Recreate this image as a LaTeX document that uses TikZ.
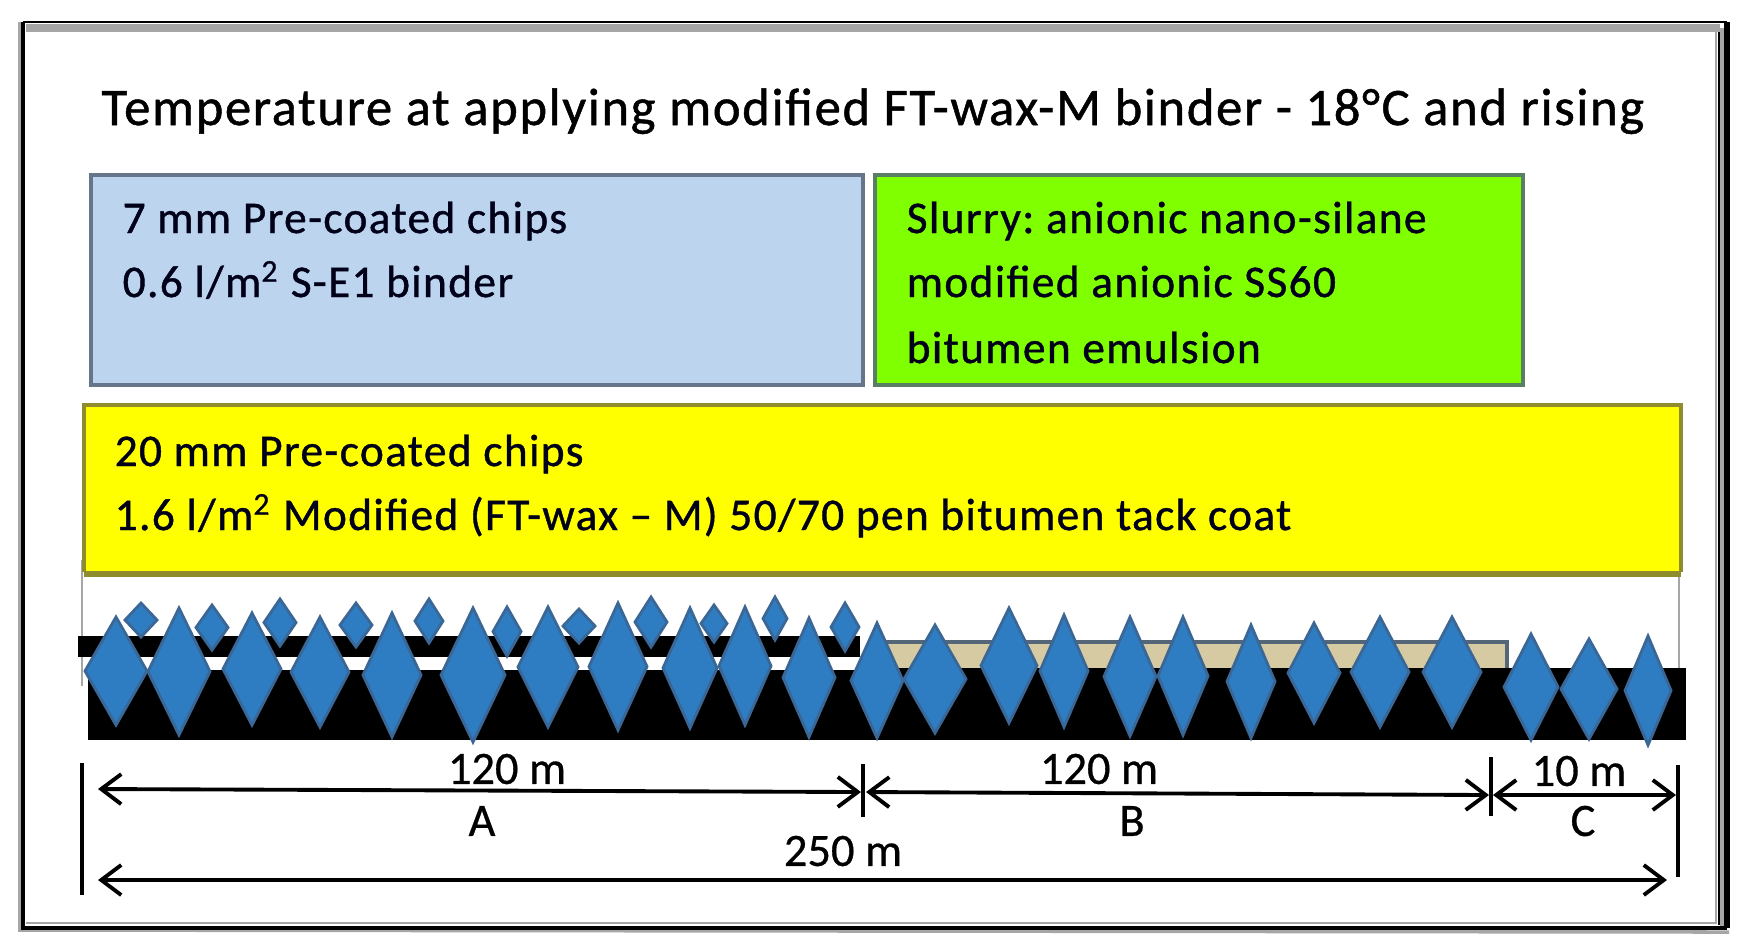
\documentclass[tikz,border=0pt]{standalone}
\usepackage{fontspec}
\setmainfont[LetterSpace=3,FakeBold=0.9]{Carlito}
\newfontfamily\dimfont[FakeBold=0.6]{Carlito}
\usepackage{xcolor}
\usetikzlibrary{arrows.meta}
\definecolor{chipblue}{HTML}{BDD4EE}
\definecolor{slurrygreen}{HTML}{80FF00}
\definecolor{tackyellow}{HTML}{FFFF00}
\definecolor{tackedge}{HTML}{8F8C2E}
\definecolor{slurrytan}{HTML}{D6CAA2}
\definecolor{boxedge}{HTML}{556678}
\definecolor{stoneblue}{HTML}{2E7DC2}
\definecolor{stoneedge}{HTML}{3A6796}

\begin{document}
\frenchspacing
\begin{tikzpicture}
	[   x=0.01cm,y=-0.01cm,
	    layer/.style={draw=#1!15!boxedge,line width=1.1pt,fill=#1},
	    stone/.style={draw=stoneedge,line width=0.8pt,fill=stoneblue},
	    rimgray/.style={draw=gray!70},
	    bodytext/.style={anchor=base west,inner sep=0pt,text=black!90!blue,font=\fontsize{12.9}{15}\selectfont},
	    dimtext/.style={inner sep=0pt,font=\dimfont\fontsize{13.2}{15}\selectfont},
	    tick/.style={draw=black,line width=0.9pt},
	    dimline/.style={draw=black,line width=1.1pt,{Straight Barb[length=2mm,width=3mm]}-{Straight Barb[length=2mm,width=3mm]}},
	]
	\useasboundingbox (0,0) rectangle (1746,950);
	\fill[white] (0,0) rectangle (1746,950);
	
	% frame
	\coordinate (nw) at (23,22);
	\coordinate (ne) at (1727,22);
	\coordinate (se) at (1727,928);
	\coordinate (sw) at (23,928);
	\draw[rimgray,line width=2.2pt] (26,28) -- (1720,28);
	\draw[rimgray,line width=1pt] (20,22) -- (20,930) -- (1729,932);
	\draw[rimgray,line width=1pt] (1722,28) -- (1722,926);
	\draw[rimgray,line width=0.7pt] (1716,32) -- (1716,923) -- (26,923);
	\draw[draw=black,line width=0.6pt] (1719,32) -- (1719,925);
	\draw[draw=black,line width=0.7pt] (nw) -- (ne);
	\draw[draw=black,line width=1pt] (nw) -- (sw) -- (se);
	\draw[draw=black,line width=1.5pt] (ne) -- (se);
	
	\node[anchor=base,inner sep=0pt,font=\fontsize{15}{18}\selectfont] (title) at (873,125) {Temperature at applying modified FT-wax-M binder - 18°C and rising};
	
	% boxes
	\draw[layer=chipblue] (91,175) rectangle (863,385);
	\draw[layer=slurrygreen] (875,175) rectangle (1523,385);
	\draw[rimgray,line width=0.7pt] (82,560) -- (82,686);
	\draw[rimgray,line width=0.7pt] (1679,560) -- (1679,668);
	\fill[tackyellow] (84,405) rectangle (1681,572);
	\draw[draw=tackedge,line width=0.9pt] (84,572) -- (84,405) -- (1681,405) -- (1681,572);
	\draw[draw=tackedge,line width=1.5pt] (84,574) -- (1681,574);
	
	\node[bodytext] (chipsA) at (122,233) {7 mm Pre-coated chips};
	\node[bodytext] (binderA) at (122,297) {0.6 l/m\textsuperscript{2} S-E1 binder};
	\node[bodytext] (slurryA) at (906,233) {Slurry: anionic nano-silane};
	\node[bodytext] (slurryB) at (906,297) {modified anionic SS60};
	\node[bodytext] (slurryC) at (906,363) {bitumen emulsion};
	\node[bodytext] (chipsB) at (114,466) {20 mm Pre-coated chips};
	\node[bodytext] (tackcoat) at (114,530) {1.6 l/m\textsuperscript{2} Modified (FT-wax -- M) 50/70 pen bitumen tack coat};
	
	% road layers
	\fill[black] (78,636) rectangle (860,657);
	\fill[black] (88,670) rectangle (868,740);
	\fill[black] (868,668) rectangle (1686,740);
	\fill[slurrytan] (868,644) rectangle (1505,668);
	\draw[draw=boxedge,line width=1.2pt] (868,642) -- (1507,642) -- (1507,668);
	
	% small stones: x/top/bottom/half width
	\foreach \x/\t/\b/\w in {141/603/637/16,212/605/650/16,280/599/646/16,356/603/647/16,429/599/643/14,507/607/656/14,579/609/643/16,651/597/647/16,714/605/642/13,775/597/640/12,845/603/651/14}
	{
		\draw[stone] (\x,\t) -- (\x+\w,{(\t+\b)/2}) -- (\x,\b) -- (\x-\w,{(\t+\b)/2}) -- cycle;
	}
	% big stones
	\foreach \x/\t/\b/\w in {116/617/725/31,179/608/735/31,252/613/725/29,320/617/727/29,392/613/737/29,473/608/742/32,548/607/727/30,618/603/730/29,690/608/728/27,745/607/725/26,809/618/737/26,877/623/738/26,935/625/733/31,1009/608/723/28,1064/615/727/24,1130/617/736/26,1183/617/735/25,1251/625/738/24,1314/623/723/26,1380/617/727/29,1452/617/727/29,1531/634/740/27,1589/639/739/28,1648/636/745/23}
	{
		\draw[stone] (\x,\t) -- (\x+\w,{(\t+\b)/2}) -- (\x,\b) -- (\x-\w,{(\t+\b)/2}) -- cycle;
	}
	
	% dimensions
	\coordinate (a-top) at (82,763);
	\coordinate (a-bot) at (82,895);
	\coordinate (b-top) at (863,764);
	\coordinate (b-bot) at (863,817);
	\coordinate (c-top) at (1491,757);
	\coordinate (c-bot) at (1491,816);
	\coordinate (d-top) at (1678,765);
	\coordinate (d-bot) at (1678,877);
	\path[tick] (a-top) -- (a-bot);
	\path[tick] (b-top) -- (b-bot);
	\path[tick] (c-top) -- (c-bot);
	\path[tick] (d-top) -- (d-bot);
	
	\coordinate (a-l) at (98,789);
	\coordinate (a-r) at (861,792);
	\coordinate (b-l) at (866,792);
	\coordinate (b-r) at (1489,795);
	\coordinate (c-l) at (1493,795);
	\coordinate (c-r) at (1676,795);
	\coordinate (t-l) at (98,880);
	\coordinate (t-r) at (1667,880);
	\path[dimline] (a-l) -- (a-r);
	\path[dimline] (b-l) -- (b-r);
	\path[dimline] (c-l) -- (c-r);
	\path[dimline] (t-l) -- (t-r);
	
	\node[dimtext] (lenA) at (507,769) {120 m};
	\node[dimtext] (secA) at (482,821) {A};
	\node[dimtext] (lenB) at (1099,769) {120 m};
	\node[dimtext] (secB) at (1132,821) {B};
	\node[dimtext] (lenC) at (1579,771) {10 m};
	\node[dimtext] (secC) at (1583,821) {C};
	\node[dimtext] (lenT) at (843,851) {250 m};
	\end{tikzpicture}
\end{document}
